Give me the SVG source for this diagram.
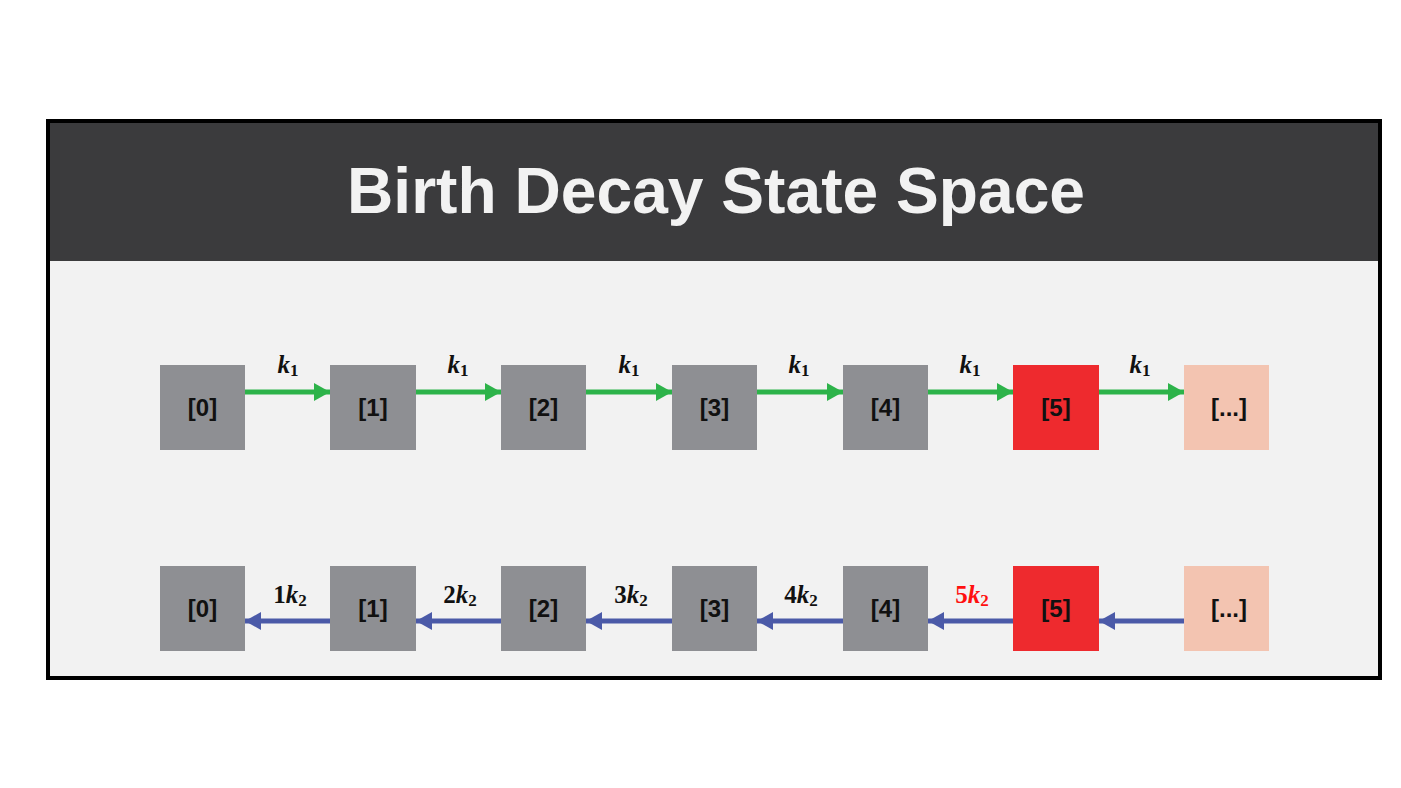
<svg xmlns="http://www.w3.org/2000/svg" width="1401" height="788" viewBox="0 0 1401 788">
<style>
.box{stroke:none}
.g{fill:#8e8f93}
.r{fill:#ee2a2e}
.p{fill:#f3c4b1}
.nl{font-family:"Liberation Sans",Arial,sans-serif;font-weight:bold;font-size:24px;fill:#111;text-anchor:middle}
.ml{font-family:"Liberation Serif","DejaVu Serif",serif;font-weight:bold;font-size:25px;fill:#111;text-anchor:middle}
.mi{font-style:italic}
.sub{font-size:17px;font-style:normal}
.gr{stroke:#2db34a;stroke-width:5;fill:none}
.bl{stroke:#4b5aa8;stroke-width:5;fill:none}
</style>
<defs>
<marker id="ag" viewBox="0 0 16 18" refX="16" refY="9" markerWidth="16" markerHeight="18" markerUnits="userSpaceOnUse" orient="auto"><path d="M0,0 L16,9 L0,18 Z" fill="#2db34a"/></marker>
<marker id="ab" viewBox="0 0 16 18" refX="16" refY="9" markerWidth="16" markerHeight="18" markerUnits="userSpaceOnUse" orient="auto"><path d="M0,0 L16,9 L0,18 Z" fill="#4b5aa8"/></marker>
</defs>
<rect width="1401" height="788" fill="#ffffff"/>
<rect x="48" y="121" width="1332" height="557" fill="#f2f2f2" stroke="#000" stroke-width="4"/>
<rect x="50" y="123" width="1328" height="138" fill="#3b3b3d"/>
<text x="716" y="213" font-family="Liberation Sans, Arial, sans-serif" font-weight="bold" font-size="64" fill="#f2f2f2" text-anchor="middle" textLength="738" lengthAdjust="spacingAndGlyphs">Birth Decay State Space</text>

<g id="connectors">
<path class="gr" d="M245,392 H330" marker-end="url(#ag)"/>
<path class="gr" d="M416,392 H501" marker-end="url(#ag)"/>
<path class="gr" d="M586,392 H672" marker-end="url(#ag)"/>
<path class="gr" d="M757,392 H843" marker-end="url(#ag)"/>
<path class="gr" d="M928,392 H1013" marker-end="url(#ag)"/>
<path class="gr" d="M1099,392 H1184" marker-end="url(#ag)"/>
<path class="bl" d="M330,621 H245" marker-end="url(#ab)"/>
<path class="bl" d="M501,621 H416" marker-end="url(#ab)"/>
<path class="bl" d="M672,621 H586" marker-end="url(#ab)"/>
<path class="bl" d="M843,621 H757" marker-end="url(#ab)"/>
<path class="bl" d="M1013,621 H928" marker-end="url(#ab)"/>
<path class="bl" d="M1184,621 H1099" marker-end="url(#ab)"/>
<text class="ml" x="288" y="373"><tspan class="mi">k</tspan><tspan class="sub" dy="3">1</tspan></text>
<text class="ml" x="458" y="373"><tspan class="mi">k</tspan><tspan class="sub" dy="3">1</tspan></text>
<text class="ml" x="629" y="373"><tspan class="mi">k</tspan><tspan class="sub" dy="3">1</tspan></text>
<text class="ml" x="799" y="373"><tspan class="mi">k</tspan><tspan class="sub" dy="3">1</tspan></text>
<text class="ml" x="970" y="373"><tspan class="mi">k</tspan><tspan class="sub" dy="3">1</tspan></text>
<text class="ml" x="1140" y="373"><tspan class="mi">k</tspan><tspan class="sub" dy="3">1</tspan></text>
<text class="ml" x="290" y="603">1<tspan class="mi">k</tspan><tspan class="sub" dy="3">2</tspan></text>
<text class="ml" x="460" y="603">2<tspan class="mi">k</tspan><tspan class="sub" dy="3">2</tspan></text>
<text class="ml" x="631" y="603">3<tspan class="mi">k</tspan><tspan class="sub" dy="3">2</tspan></text>
<text class="ml" x="801" y="603">4<tspan class="mi">k</tspan><tspan class="sub" dy="3">2</tspan></text>
<text class="ml" x="972" y="603" style="fill:#ff1010">5<tspan class="mi">k</tspan><tspan class="sub" dy="3">2</tspan></text>
</g>

<g id="t0"><rect class="box g" x="160" y="365" width="85" height="85"/><text class="nl" x="202.5" y="416">[0]</text></g>
<g id="t1"><rect class="box g" x="330" y="365" width="86" height="85"/><text class="nl" x="373" y="416">[1]</text></g>
<g id="t2"><rect class="box g" x="501" y="365" width="85" height="85"/><text class="nl" x="543.5" y="416">[2]</text></g>
<g id="t3"><rect class="box g" x="672" y="365" width="85" height="85"/><text class="nl" x="714.5" y="416">[3]</text></g>
<g id="t4"><rect class="box g" x="843" y="365" width="85" height="85"/><text class="nl" x="885.5" y="416">[4]</text></g>
<g id="t5"><rect class="box r" x="1013" y="365" width="86" height="85"/><text class="nl" x="1056" y="416">[5]</text></g>
<g id="t6"><rect class="box p" x="1184" y="365" width="85" height="85"/><text class="nl" x="1229" y="416">[...]</text></g>

<g id="b0"><rect class="box g" x="160" y="566" width="85" height="85"/><text class="nl" x="202.5" y="617">[0]</text></g>
<g id="b1"><rect class="box g" x="330" y="566" width="86" height="85"/><text class="nl" x="373" y="617">[1]</text></g>
<g id="b2"><rect class="box g" x="501" y="566" width="85" height="85"/><text class="nl" x="543.5" y="617">[2]</text></g>
<g id="b3"><rect class="box g" x="672" y="566" width="85" height="85"/><text class="nl" x="714.5" y="617">[3]</text></g>
<g id="b4"><rect class="box g" x="843" y="566" width="85" height="85"/><text class="nl" x="885.5" y="617">[4]</text></g>
<g id="b5"><rect class="box r" x="1013" y="566" width="86" height="85"/><text class="nl" x="1056" y="617">[5]</text></g>
<g id="b6"><rect class="box p" x="1184" y="566" width="85" height="85"/><text class="nl" x="1229" y="617">[...]</text></g>
</svg>
